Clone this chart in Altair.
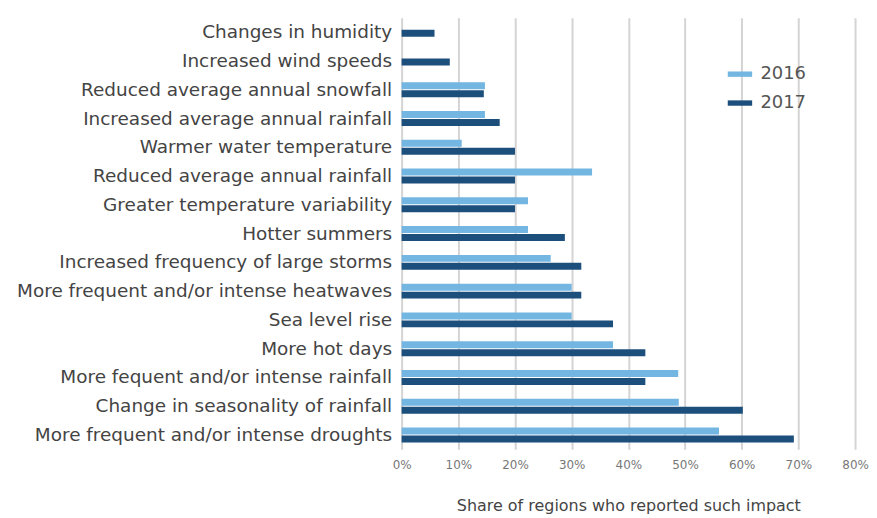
import altair as alt
import pandas as pd

categories = [
    "Changes in humidity",
    "Increased wind speeds",
    "Reduced average annual snowfall",
    "Increased average annual rainfall",
    "Warmer water temperature",
    "Reduced average annual rainfall",
    "Greater temperature variability",
    "Hotter summers",
    "Increased frequency of large storms",
    "More frequent and/or intense heatwaves",
    "Sea level rise",
    "More hot days",
    "More fequent and/or intense rainfall",
    "Change in seasonality of rainfall",
    "More frequent and/or intense droughts",
]
v2016 = [None, None, 14.7, 14.7, 10.6, 33.6, 22.3, 22.3, 26.3, 30.0, 30.0, 37.3, 48.8, 48.9, 56.0]
v2017 = [5.8, 8.5, 14.5, 17.3, 20.0, 20.0, 20.0, 28.8, 31.7, 31.7, 37.3, 43.0, 43.0, 60.2, 69.2]

rows = []
for c, a, b in zip(categories, v2016, v2017):
    single = a is None
    if a is not None:
        rows.append({"cat": c, "year": "2016", "val": a / 100, "single": False})
    rows.append({"cat": c, "year": "2017", "val": b / 100, "single": single})
df = pd.DataFrame(rows)

FONT = "DejaVu Sans"
color = alt.Color(
    "year:N",
    scale=alt.Scale(domain=["2016", "2017"], range=["#74b6e2", "#1c4f7c"]),
    legend=alt.Legend(
        title=None, orient="none", legendX=327, legendY=44,
        symbolType="M-1,-0.22H1V0.22H-1Z", symbolSize=600, symbolStrokeWidth=0,
        labelFontSize=18, labelFont=FONT, labelColor="#555555",
        rowPadding=7, labelOffset=8,
    ),
)
x = alt.X(
    "val:Q",
    scale=alt.Scale(domain=[0, 0.8]),
    axis=alt.Axis(
        format="%", values=[0, .1, .2, .3, .4, .5, .6, .7, .8],
        title="Share of regions who reported such impact",
        titleFont=FONT, titleFontSize=16, titleFontWeight="normal", titleColor="#444444",
        titlePadding=27, labelFont=FONT, labelFontSize=12, labelColor="#777777",
        labelPadding=10, labelFlush=False, ticks=False, domain=False,
        grid=True, gridColor="#d4d4d4", gridWidth=2,
    ),
)
y = alt.Y(
    "cat:N", sort=categories,
    scale=alt.Scale(paddingInner=0, paddingOuter=0),
    axis=alt.Axis(
        title=None, labelFont=FONT, labelFontSize=18.5, labelColor="#444444",
        ticks=False, domain=False, labelPadding=10, labelLimit=420,
    ),
)

base = alt.Chart(df).encode(x=x, y=y, color=color)
b16 = base.transform_filter("datum.year == '2016'").mark_bar(height=7, yOffset=-4)
b17 = base.transform_filter("datum.year == '2017' && !datum.single").mark_bar(height=7, yOffset=4)
b17s = base.transform_filter("datum.year == '2017' && datum.single").mark_bar(height=7, yOffset=1)

chart = alt.layer(b16, b17, b17s).properties(
    width=455, height=433, background="white",
    autosize=alt.AutoSizeParams(type="none"),
    padding={"left": 395, "top": 9, "right": 14, "bottom": 64},
).configure_view(stroke=None)

chart.save("out.html", embed_options={"renderer": "svg", "actions": False})
